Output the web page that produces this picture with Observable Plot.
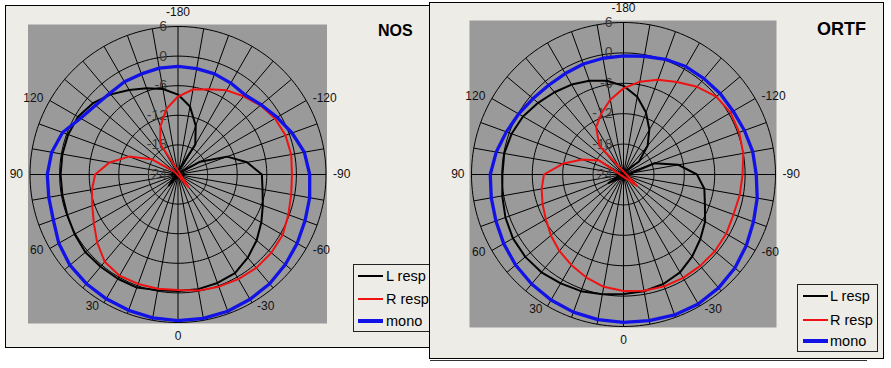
<!DOCTYPE html>
<html><head><meta charset="utf-8">
<script src="https://cdn.jsdelivr.net/npm/d3@7"></script>
<script src="https://cdn.jsdelivr.net/npm/@observablehq/plot@0.6"></script>
<style>
html,body{margin:0;padding:0;background:#fff;}
body{width:891px;height:368px;position:relative;overflow:hidden;font-family:"Liberation Sans",Arial,sans-serif;}
.panel{position:absolute;box-sizing:border-box;border:1px solid #000;background:#eeece7;}
.abs{position:absolute;}
.title{position:absolute;font-weight:bold;color:#000;white-space:nowrap;}
.legend{position:absolute;box-sizing:border-box;border:1px solid #222;background:#eeece7;}
.lt{position:absolute;font-size:14.5px;line-height:16px;color:#000;white-space:nowrap;}
</style></head><body>
<script>
// ---- categories (degrees), in the order the chart runs clockwise from the top ----
const angles = [-180,-170,-160,-150,-140,-130,-120,-110,-100,-90,-80,-70,-60,-50,-40,-30,-20,-10,
                0,10,20,30,40,50,60,70,80,90,100,110,120,130,140,150,160,170];
const angleLabels = [-180,-120,-90,-60,-30,0,30,60,90,120];
const ringLabels = [6,0,-6,-12,-18,-24];
const dbMin = -24, dbMax = 6;
const seriesNames = ["L resp","R resp","mono"];

// ---- NOS (dB) ----
const nosL = [-7.8,-10.0,-13.5,-17.0,-26.9,-23.0,-18.8,-13.4,-9.8,-7.0,-6.6,-5.7,-4.5,-3.2,-2.0,-0.9,-0.6,-0.4,
              -0.4,-0.2,0.4,0.4,0.4,0.5,0.2,-0.1,-0.2,-0.2,-0.2,-0.3,-0.6,-1.5,-2.8,-4.2,-5.4,-6.4];
const nosR = [-8.2,-6.5,-5.6,-4.3,-3.3,-2.2,-1.3,-0.8,-0.7,-0.9,-0.7,-0.2,0.5,0.7,0.7,0.5,0.2,-0.1,
              -0.6,-0.5,-0.4,-0.3,-0.9,-2.6,-4.3,-5.5,-6.3,-7.2,-9.9,-13.4,-17.8,-23.0,-27.3,-16.8,-13.6,-10.5];
const nosMono = [-2.1,-2.2,-2.3,-2.6,-2.9,-2.0,-0.8,0.6,2.0,2.7,3.1,3.4,3.9,4.4,4.9,5.2,5.5,5.6,
                 5.6,5.5,5.3,5.1,4.9,4.6,3.9,2.9,2.6,2.5,2.0,0.9,-1.2,-2.2,-2.5,-2.3,-2.3,-2.1];

// ---- ORTF (dB) ----
const ortfL = [-6.5,-8.4,-11.0,-13.8,-16.6,-20.0,-27.4,-17.5,-13.0,-9.5,-7.8,-6.9,-5.4,-4.2,-2.9,-1.7,-1.0,-0.6,
               -0.4,0.0,0.5,0.8,1.2,1.3,1.2,0.8,0.3,-0.1,-0.1,-0.5,-1.1,-2.0,-2.8,-3.5,-4.3,-5.2];
const ortfR = [-7.0,-5.4,-4.1,-2.9,-1.4,-0.1,0.4,0.3,0.0,-0.5,-0.7,-0.9,-0.6,-0.45,-0.45,-0.45,-0.5,-0.7,
               -1.0,-1.5,-2.4,-3.4,-4.3,-5.3,-6.3,-7.0,-7.6,-8.3,-11.8,-15.3,-18.5,-27.5,-16.6,-13.2,-11.2,-9.0];
const ortfMono = [-0.6,-0.3,0.2,0.6,0.7,0.9,1.0,1.4,1.9,2.2,2.8,3.3,4.0,4.7,5.2,5.5,5.5,5.3,
                  5.2,5.1,4.9,4.6,4.2,3.8,3.3,2.8,2.5,2.3,1.5,0.6,-0.1,-0.7,-1.0,-1.0,-0.8,-0.7];

const styles = [
  {color:"#000000", width:2},
  {color:"#f01212", width:2},
  {color:"#1212e6", width:3.3}
];
const plotBg = "#9a9a9a";

const rad = d => d * Math.PI / 180;
const polar = (a, v) => ({x: -(v - dbMin) * Math.sin(rad(a)), y: -(v - dbMin) * Math.cos(rad(a))});

function polarChart({series, width, height, cx, cy, radius}) {
  const span = dbMax - dbMin;
  const k = radius / span;
  const pad = 1.5 / k;
  const circleSteps = d3.range(0, 360, 2);
  const rings = ringLabels.filter(v => v > dbMin).flatMap(v => circleSteps.map(a => ({ring: v, ...polar(a, v)})));
  const labelR = span + 4 / k;
  const lp = a => ({x: -labelR * Math.sin(rad(a)), y: -labelR * Math.cos(rad(a)), t: String(a)});
  const left = angleLabels.filter(a => a > 0 && a < 180).map(lp);
  const right = angleLabels.filter(a => a < 0 && a > -180).map(lp);
  const top = angleLabels.filter(a => a === -180).map(lp);
  const bottom = angleLabels.filter(a => a === 0).map(lp);
  const marks = [
    Plot.rect([0], {x1: () => -(span + pad), x2: () => span + pad, y1: () => -(span + pad), y2: () => span + pad, fill: plotBg}),
    Plot.line(rings, {x: "x", y: "y", z: "ring", curve: "linear-closed", stroke: "#000", strokeWidth: 1}),
    Plot.link(angles, {x1: () => 0, y1: () => 0, x2: a => polar(a, dbMax).x, y2: a => polar(a, dbMax).y, stroke: "#000", strokeWidth: 1}),
    Plot.text(ringLabels, {x: () => 0, y: v => v - dbMin, text: v => String(v), dx: -11, textAnchor: "end", fill: "#3a3a3a", fontSize: 14}),
    Plot.text(left, {x: "x", y: "y", text: "t", textAnchor: "end", dx: -3, fill: "#111", fontSize: 12}),
    Plot.text(right, {x: "x", y: "y", text: "t", textAnchor: "start", dx: 3, fill: "#111", fontSize: 12}),
    Plot.text(top, {x: "x", y: "y", text: "t", textAnchor: "middle", lineAnchor: "bottom", dy: -7, fill: "#111", fontSize: 12}),
    Plot.text(bottom, {x: "x", y: "y", text: "t", textAnchor: "middle", lineAnchor: "top", dy: 5, fill: "#111", fontSize: 12})
  ];
  series.forEach((vals, i) => {
    const pts = angles.map((a, j) => polar(a, vals[j]));
    marks.push(Plot.line(pts, {x: "x", y: "y", curve: "linear-closed", stroke: styles[i].color, strokeWidth: styles[i].width, strokeLinejoin: "round"}));
  });
  return Plot.plot({
    width, height,
    marginTop: 0, marginRight: 0, marginBottom: 0, marginLeft: 0,
    x: {domain: [-cx / k, (width - cx) / k], axis: null},
    y: {domain: [-(height - cy) / k, cy / k], axis: null},
    style: {background: "transparent", overflow: "visible", fontFamily: "'Liberation Sans', Arial, sans-serif"},
    marks
  });
}

function el(cls, css, html) {
  const d = document.createElement("div");
  if (cls) d.className = cls;
  Object.assign(d.style, css);
  if (html != null) d.textContent = html;
  document.body.appendChild(d);
  return d;
}

function legend(box, rows, swX, txtX) {
  el("legend", {left: box[0] + "px", top: box[1] + "px", width: box[2] + "px", height: box[3] + "px"});
  seriesNames.forEach((name, i) => {
    const w = styles[i].width;
    el("abs", {left: swX + "px", top: (rows[i] - w / 2) + "px", width: "25px", height: w + "px", background: styles[i].color});
    el("lt", {left: txtX + "px", top: (rows[i] - 7.8) + "px"}, name);
  });
}

// ---- NOS panel ----
el("panel", {left: "5px", top: "5px", width: "440px", height: "343px"});
const nos = polarChart({series: [nosL, nosR, nosMono], width: 420, height: 340, cx: 171.5, cy: 168, radius: 148});
nos.style.position = "absolute"; nos.style.left = "6px"; nos.style.top = "6px";
document.body.appendChild(nos);
el("title", {left: "378px", top: "23px", fontSize: "16px", lineHeight: "16px"}, "NOS");
legend([353, 264, 95, 68], [276, 299, 321], 358, 386);

// ---- ORTF panel ----
el("panel", {left: "429px", top: "2px", width: "455px", height: "357px"});
el("abs", {left: "430px", top: "360px", width: "437px", height: "1px", background: "#333"});
const ortf = polarChart({series: [ortfL, ortfR, ortfMono], width: 452, height: 353, cx: 193, cy: 170, radius: 152});
ortf.style.position = "absolute"; ortf.style.left = "430px"; ortf.style.top = "4px";
document.body.appendChild(ortf);
el("title", {left: "817px", top: "20px", fontSize: "18px", lineHeight: "18px"}, "ORTF");
legend([797, 284, 81, 68], [296, 319.5, 341], 803, 830);
</script>
</body></html>
